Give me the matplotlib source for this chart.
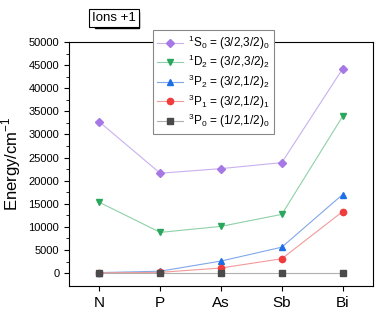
import matplotlib.pyplot as plt

elements = ["N", "P", "As", "Sb", "Bi"]
s0 = [32700, 21600, 22600, 23900, 44200]
d2 = [15300, 8800, 10100, 12700, 33900]
p2 = [100, 400, 2600, 5600, 17000]
p1 = [50, 150, 1100, 3100, 13300]
p0 = [0, 0, 0, 0, 0]

labels = [r"$^{1}$S$_{0}$ = (3/2,3/2)$_{0}$",
          r"$^{1}$D$_{2}$ = (3/2,3/2)$_{2}$",
          r"$^{3}$P$_{2}$ = (3/2,1/2)$_{2}$",
          r"$^{3}$P$_{1}$ = (3/2,1/2)$_{1}$",
          r"$^{3}$P$_{0}$ = (1/2,1/2)$_{0}$"]

plt.rcParams["font.family"] = ["Liberation Sans", "DejaVu Sans"]
plt.rcParams["mathtext.fontset"] = "custom"
plt.rcParams["mathtext.rm"] = "Liberation Sans"

fig = plt.figure(figsize=(3.82, 3.14), dpi=100)
ax = fig.add_axes([69/382, 1-286/314, (373-69)/382, (286-42)/314])

x = list(range(len(elements)))
series = [(s0, "#a678e6", "#c9b0ef", "D", 4.5),
          (d2, "#2aa75c", "#8fd0a8", "v", 5),
          (p2, "#1c6fe6", "#7fa8ea", "^", 5),
          (p1, "#f03c3c", "#f29a9a", "o", 4.5),
          (p0, "#4a4a4a", "#b0b0b0", "s", 4)]
for (vals, c, lc, m, ms), lab in zip(series, labels):
    ax.plot(x, vals, color=lc, lw=0.8, zorder=1)
    ax.plot(x, vals, ls="none", marker=m, color=c, ms=ms, zorder=2)
    ax.plot([], [], color=lc, lw=0.8, marker=m, mfc=c, mec=c, ms=ms, label=lab)

ax.set_xlim(-0.5, 4.5)
ax.set_ylim(-2800, 50000)
ax.set_xticks(x)
ax.set_xticklabels(elements, fontsize=11)
ax.set_yticks(range(0, 50001, 5000))
ax.set_yticks(range(0, 50001, 2500), minor=True)
ax.tick_params(axis="y", labelsize=8, direction="out")
ax.tick_params(axis="x", direction="out")
ax.set_ylabel(r"Energy/cm$^{-1}$", fontsize=12, labelpad=4)

leg = ax.legend(loc="upper left", bbox_to_anchor=(153/382, 1-30/314),
                bbox_transform=fig.transFigure, borderaxespad=0,
                fontsize=8.5, frameon=True, framealpha=1,
                fancybox=False, edgecolor="#888888", handlelength=2.2,
                borderpad=0.3, labelspacing=0.12, handletextpad=0.5)
leg.get_frame().set_linewidth(0.8)
leg.set_zorder(5)

fig.text(114/382, 1-18/314, "Ions +1", fontsize=9.5, ha="center", va="center",
         zorder=3,
         bbox=dict(boxstyle="square,pad=0.25", fc="white", ec="black", lw=0.8))
fig.patches.append(plt.Rectangle((95/382, 1-28/314), 44/382, 16/314,
                                 transform=fig.transFigure, color="black", zorder=0))

fig.savefig("out.png", dpi=100)
